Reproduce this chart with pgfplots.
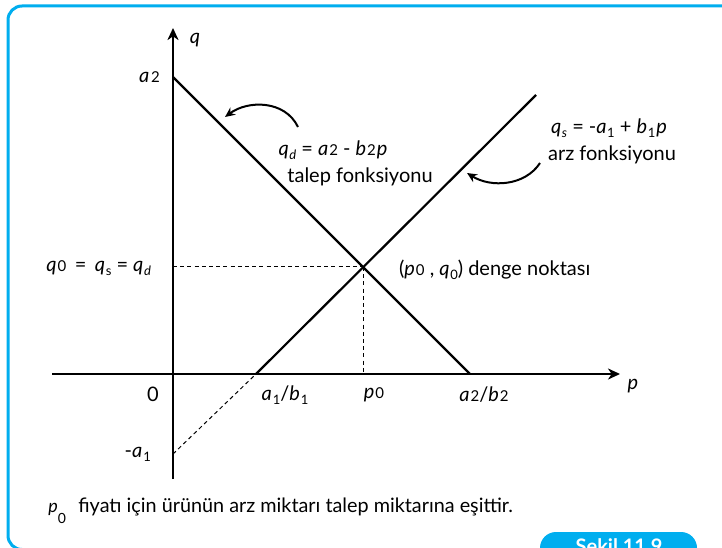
\documentclass[border=0pt]{standalone}
\usepackage{fontspec}
\setmainfont{Lato}
\usepackage{pgfplots}
\pgfplotsset{compat=1.18}
\usetikzlibrary{arrows.meta}
\definecolor{frameblue}{HTML}{00AEEF}
% lowered small index and small index on the baseline
\newcommand{\sub}[1]{\raisebox{-0.4ex}{\fontsize{6.5}{7}\selectfont #1}}
\newcommand{\low}[1]{{\fontsize{7.5}{8}\selectfont #1}}
\newcommand{\lbl}{\fontsize{8.5}{10}\selectfont}

\begin{document}
\begin{tikzpicture}[x=0.5pt,y=0.5pt]
\useasboundingbox (0,0) rectangle (722,547);
\clip (0,0) rectangle (722,547);
\fill[white] (0,0) rectangle (722,547);
% frame and figure tab
\draw[frameblue, line width=1.5pt, rounded corners=7pt] (8,-2.5) rectangle (780,541);
\fill[frameblue, rounded corners=8pt] (540,-40) rectangle (697,15);
\node[white, anchor=base, inner sep=0, font=\bfseries\fontsize{10}{12}\selectfont] at (619,-6) {Şekil 11.9};

\begin{axis}[
  at={(86.5pt,86.5pt)}, anchor=origin,
  x=0.5pt, y=0.5pt,
  axis lines=middle,
  axis line style={line width=1.2pt, -{Stealth[length=6pt,width=5.5pt,inset=1.8pt]}},
  xmin=-121, xmax=447, ymin=-105, ymax=346,
  ticks=none, clip=false,
  every node/.style={inner sep=0pt, font=\lbl},
]
% demand and supply lines
\addplot[black, line width=1.1pt] coordinates {(0,297) (297,0)};
\addplot[black, line width=1.1pt] coordinates {(83,0) (363,279)};
% supply extended below the p axis
\addplot[black, line width=0.5pt, dash pattern=on 2pt off 1.6pt] coordinates {(0,-80) (83,0)};
% equilibrium guides
\addplot[black, line width=0.5pt, dash pattern=on 2pt off 1.6pt] coordinates {(0,107) (190,107)};
\addplot[black, line width=0.5pt, dash pattern=on 2pt off 1.6pt] coordinates {(190,107) (190,0)};

% pointer arrows
\draw[line width=1pt, -{Stealth[length=5pt,width=4.5pt]}]
  (125,247) .. controls (112,274) and (75,274) .. (52,257);
\draw[line width=1pt, -{Stealth[length=5pt,width=4.5pt]}]
  (367,211) .. controls (352,188) and (318,186) .. (294,201);

% axis labels
\node at (22,334) {\textit{q}};
\node at (460,-12) {\textit{p}};
\node[anchor=east] at (-6,297) {\textit{a}\kern1pt\low{2}};
\node at (-20,-20) {0};
\node[anchor=east] at (-15,-80) {-\textit{a}\kern0.5pt\sub{1}};
\node at (112,-21) {\textit{a}\kern0.5pt\sub{1}/\textit{b}\kern0.5pt\sub{1}};
\node at (201,-21) {\textit{p}\kern0.5pt\low{0}};
\node at (311,-21) {\textit{a}\kern0.5pt\low{2}/\textit{b}\kern0.5pt\low{2}};

% curve and point labels
\node[anchor=east] at (-15,106) {\textit{q}\kern0.5pt\low{0} \,=\, \textit{q}\kern0.3pt\sub{s} = \textit{q}\kern0.3pt\sub{\textit{d}}};
\node[anchor=west] at (219,104) {(\textit{p}\kern0.5pt\low{0} , \textit{q}\kern0.3pt\sub{0}) denge noktası};
\node at (160,224) {\textit{q}\kern0.3pt\sub{\textit{d}} = \textit{a}\kern0.5pt\low{2} - \textit{b}\kern0.5pt\low{2}\kern0.5pt\textit{p}};
\node at (187,197) {talep fonksiyonu};
\node at (436,246) {\textit{q}\kern0.3pt\sub{\textit{s}} = -\textit{a}\kern0.3pt\sub{1} + \textit{b}\kern0.3pt\sub{1}\kern0.5pt\textit{p}};
\node at (439,219) {arz fonksiyonu};
\end{axis}

% caption line
\node[anchor=base west, inner sep=0, font=\fontsize{9}{10}\selectfont] at (48,35) {\textit{p}\raisebox{-1.3ex}{\fontsize{7}{8}\selectfont 0}};
\node[anchor=base west, inner sep=0, font=\fontsize{9.9}{11}\selectfont] at (78,35) {fiyatı için ürünün arz miktarı talep miktarına eşittir.};
\end{tikzpicture}
\end{document}
